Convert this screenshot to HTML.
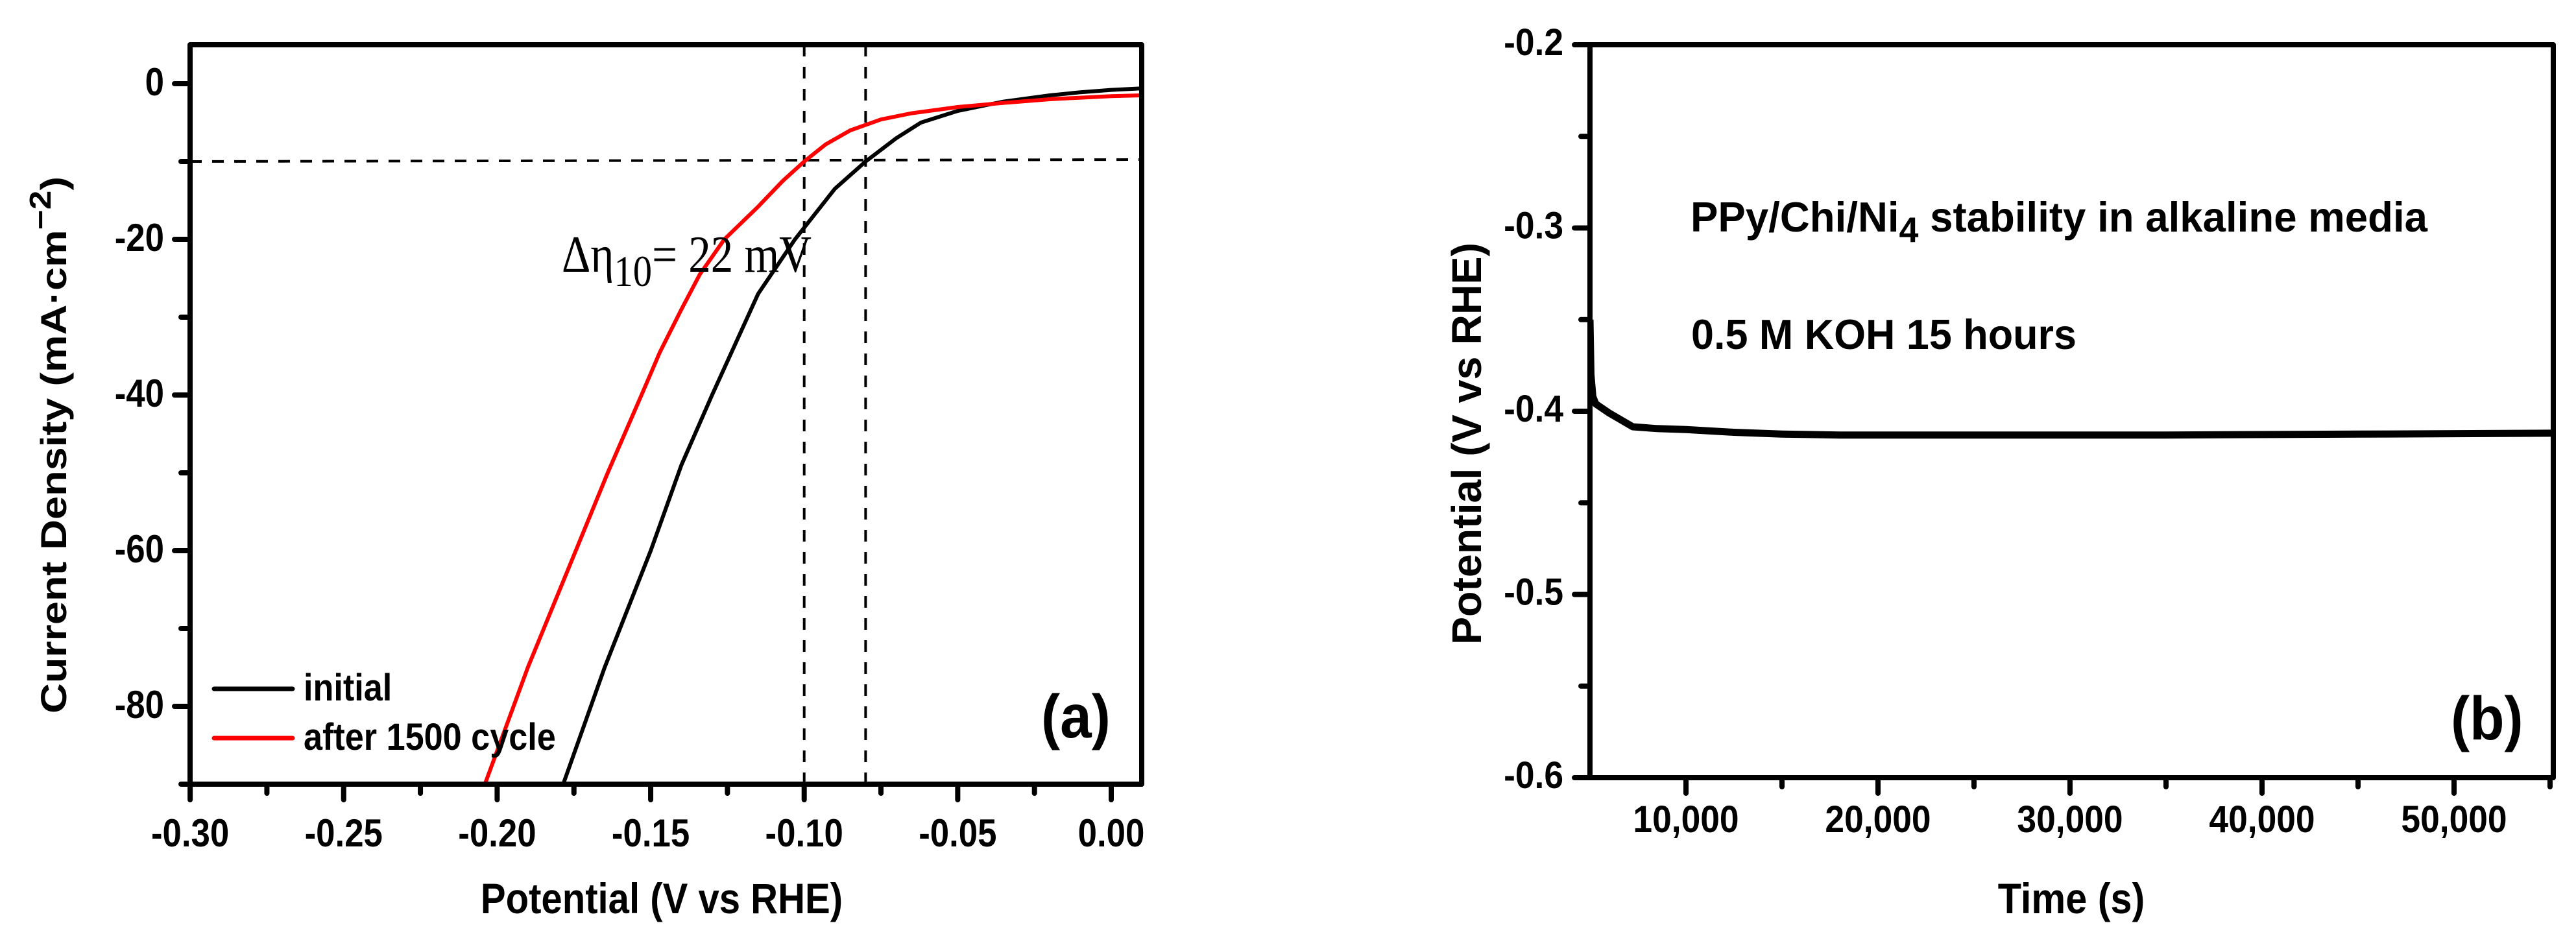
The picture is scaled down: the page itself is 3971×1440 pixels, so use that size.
<!DOCTYPE html>
<html><head><meta charset="utf-8"><style>
html,body{margin:0;padding:0;background:#fff;}
svg{display:block;}
text{font-family:"Liberation Sans",sans-serif;font-weight:bold;fill:#000;}
</style></head><body>
<svg id="fig" width="3971" height="1440" viewBox="0 0 3971 1440" xmlns="http://www.w3.org/2000/svg">
<g id="pa"></g>
<g id="pb"></g>
</svg>
<script>
// ---- Panel (a) data ----
const aXTicks = [-0.30, -0.25, -0.20, -0.15, -0.10, -0.05, 0.00];
const aXTickLabels = ["-0.30", "-0.25", "-0.20", "-0.15", "-0.10", "-0.05", "0.00"];
const aYTicks = [0, -20, -40, -60, -80];
const aYTickLabels = ["0", "-20", "-40", "-60", "-80"];
const initialV = [0.01, 0.0, -0.01, -0.02, -0.035, -0.05, -0.062, -0.07, -0.08, -0.09, -0.103, -0.115, -0.13, -0.14, -0.15, -0.165, -0.1785];
const initialJ = [-0.6, -0.8, -1.1, -1.5, -2.3, -3.5, -5, -7, -10, -13.5, -20, -27, -40, -49, -60, -75, -90];
const cycledV = [0.01, 0.0, -0.02, -0.036, -0.05, -0.065, -0.075, -0.085, -0.093, -0.10, -0.107, -0.115, -0.126, -0.134, -0.14, -0.147, -0.153, -0.164, -0.1744, -0.19, -0.204];
const cycledJ = [-1.5, -1.6, -2, -2.5, -3, -3.8, -4.6, -6, -7.8, -10, -12.5, -15.8, -20, -24.5, -29, -34.5, -40, -50, -60, -75, -90];
const refV = [-0.10, -0.08];
const refJ = [-10];
// ---- Panel (b) data ----
const bXTicks = [10000, 20000, 30000, 40000, 50000];
const bXTickLabels = ["10,000", "20,000", "30,000", "40,000", "50,000"];
const bYTicks = [-0.2, -0.3, -0.4, -0.5, -0.6];
const bYTickLabels = ["-0.2", "-0.3", "-0.4", "-0.5", "-0.6"];
const timeS = [5000, 5050, 5150, 5300, 6000, 7230, 8500, 10000, 12500, 15000, 18000, 25000, 35000, 45000, 55150];
const potV = [-0.35, -0.38, -0.392, -0.396, -0.401, -0.4085, -0.4095, -0.410, -0.4115, -0.4125, -0.413, -0.413, -0.413, -0.4125, -0.412];

const NS = "http://www.w3.org/2000/svg";
function mk(parent, tag, attrs){const e=document.createElementNS(NS,tag);for(const k in attrs)e.setAttribute(k,attrs[k]);parent.appendChild(e);return e;}
function txt(parent, x, y, s, size, sx, anchor, fill){
  const t=mk(parent,"text",{transform:`translate(${x},${y}) scale(${sx},1)`,"font-size":size,"text-anchor":anchor||"start"});
  if(fill) t.setAttribute("fill",fill);
  t.textContent=s; return t;
}
function pathFrom(xs, ys, fx, fy){return xs.map((v,i)=>(i?"L":"M")+fx(v).toFixed(1)+","+fy(ys[i]).toFixed(1)).join(" ");}

// ===== Panel A =====
const A = document.getElementById("pa");
const aL=293, aR=1760, aT=69, aB=1209;
const ax = v => 1713 + v*4733;
const ay = j => 129 - j*12;
refV.forEach(v=>{
  const l=mk(A,"line",{x1:ax(v),y1:aT,x2:ax(v),y2:aB,stroke:"#000","stroke-width":4,"stroke-dasharray":"18 16"});
  
  
});
refJ.forEach(j=>{
  const l=mk(A,"line",{x1:aL,y1:ay(j),x2:aR,y2:ay(j)-3,stroke:"#000","stroke-width":4,"stroke-dasharray":"18 16"});
  
  
});
const cA=mk(A,"clipPath",{id:"clipA"});mk(cA,"rect",{x:aL,y:aT,width:aR-aL,height:aB-aT});
const pInit=mk(A,"path",{d:pathFrom(initialV,initialJ,ax,ay),fill:"none",stroke:"#000","stroke-width":6,"stroke-linejoin":"round","clip-path":"url(#clipA)"});


const pCyc=mk(A,"path",{d:pathFrom(cycledV,cycledJ,ax,ay),fill:"none",stroke:"#ff0000","stroke-width":6,"stroke-linejoin":"round","clip-path":"url(#clipA)"});


const fa=mk(A,"rect",{x:aL,y:aT,width:aR-aL,height:aB-aT,fill:"none",stroke:"#000","stroke-width":8,"stroke-linejoin":"round"});


aXTicks.forEach((v,i)=>{
  const t=mk(A,"line",{x1:ax(v),y1:aB,x2:ax(v),y2:aB+24,stroke:"#000","stroke-width":8,"stroke-linecap":"round"});
  
  
  const lb=txt(A,ax(v),1305,aXTickLabels[i],60,0.88,"middle");
  
  
  if(i<aXTicks.length-1){
    const m=mk(A,"line",{x1:ax(v+0.025),y1:aB,x2:ax(v+0.025),y2:aB+14,stroke:"#000","stroke-width":8,"stroke-linecap":"round"});
    
    
  }
});
aYTicks.forEach((j,i)=>{
  const t=mk(A,"line",{x1:aL,y1:ay(j),x2:aL-24,y2:ay(j),stroke:"#000","stroke-width":8,"stroke-linecap":"round"});
  
  
  const lb=txt(A,253,ay(j)+18,aYTickLabels[i],60,0.88,"end");
  
  
  const m=mk(A,"line",{x1:aL,y1:ay(j-10),x2:aL-14,y2:ay(j-10),stroke:"#000","stroke-width":8,"stroke-linecap":"round"});
  
  
});
const xtA=txt(A,1020,1408,"Potential (V vs RHE)",66,0.88,"middle");


const ytA=mk(A,"text",{transform:"translate(102,686) rotate(-90)","font-size":56,"text-anchor":"middle",textLength:828,lengthAdjust:"spacingAndGlyphs"});
ytA.innerHTML='Current Density (mA·cm<tspan dy="-24" font-size="46">−2</tspan><tspan dy="24">)</tspan>';


const ann=mk(A,"text",{x:866,y:419,"font-size":80,textLength:385,lengthAdjust:"spacingAndGlyphs",style:"font-family:'Liberation Serif',serif;font-weight:normal"});
ann.innerHTML='Δη<tspan dy="22" font-size="68">10</tspan><tspan dy="-22">= 22 mV</tspan>';


const lg=mk(A,"g",{});


const l1=mk(lg,"line",{x1:330,y1:1062,x2:451,y2:1062,stroke:"#000","stroke-width":7,"stroke-linecap":"round"});


const t1=txt(lg,468,1080,"initial",58,0.9,"start");


const l2=mk(lg,"line",{x1:330,y1:1138,x2:451,y2:1138,stroke:"#ff0000","stroke-width":7,"stroke-linecap":"round"});


const t2=txt(lg,468,1156,"after 1500 cycle",58,0.9,"start");


const la=txt(A,1605,1137,"(a)",95,0.92,"start","#ff0000");



// ===== Panel B =====
const B = document.getElementById("pb");
const bL=2451, bR=3936, bT=69, bB=1199;
const bx = t => 2599 + (t-10000)*0.0296;
const by = v => bB - (v+0.6)*2825;
const cB=mk(B,"clipPath",{id:"clipB"});mk(cB,"rect",{x:bL,y:bT,width:bR-bL,height:bB-bT});
const pb=mk(B,"path",{d:pathFrom(timeS,potV,bx,by),fill:"none",stroke:"#000","stroke-width":11,"stroke-linejoin":"round","clip-path":"url(#clipB)"});


const fb=mk(B,"rect",{x:bL,y:bT,width:bR-bL,height:bB-bT,fill:"none",stroke:"#000","stroke-width":8,"stroke-linejoin":"round"});


bXTicks.forEach((t,i)=>{
  const k=mk(B,"line",{x1:bx(t),y1:bB,x2:bx(t),y2:bB+24,stroke:"#000","stroke-width":8,"stroke-linecap":"round"});
  
  
  const lb=txt(B,bx(t),1283,bXTickLabels[i],58,0.92,"middle");
  
  
  const m=mk(B,"line",{x1:bx(t+5000),y1:bB,x2:bx(t+5000),y2:bB+14,stroke:"#000","stroke-width":8,"stroke-linecap":"round"});
  
  
});
bYTicks.forEach((v,i)=>{
  const k=mk(B,"line",{x1:bL,y1:by(v),x2:bL-24,y2:by(v),stroke:"#000","stroke-width":8,"stroke-linecap":"round"});
  
  
  const lb=txt(B,2410,by(v)+16,bYTickLabels[i],58,0.92,"end");
  
  
  if(i<bYTicks.length-1){
    const m=mk(B,"line",{x1:bL,y1:by(v-0.05),x2:bL-14,y2:by(v-0.05),stroke:"#000","stroke-width":8,"stroke-linecap":"round"});
    
    
  }
});
const xtB=txt(B,3193,1408,"Time (s)",66,0.9,"middle");


const ytB=mk(B,"text",{transform:"translate(2283,684) rotate(-90)","font-size":64,"text-anchor":"middle",textLength:620,lengthAdjust:"spacingAndGlyphs"});
ytB.textContent="Potential (V vs RHE)";


const n1=mk(B,"text",{x:2606,y:357,"font-size":65,textLength:1136,lengthAdjust:"spacingAndGlyphs"});
n1.innerHTML='PPy/Chi/Ni<tspan dy="16" font-size="55">4</tspan><tspan dy="-16"> stability in alkaline media</tspan>';


const n2=mk(B,"text",{x:2607,y:538,"font-size":65,textLength:594,lengthAdjust:"spacingAndGlyphs"});
n2.textContent="0.5 M KOH 15 hours";


const lbB=txt(B,3778,1140,"(b)",95,0.92,"start","#ff0000");


</script>
</body></html>
